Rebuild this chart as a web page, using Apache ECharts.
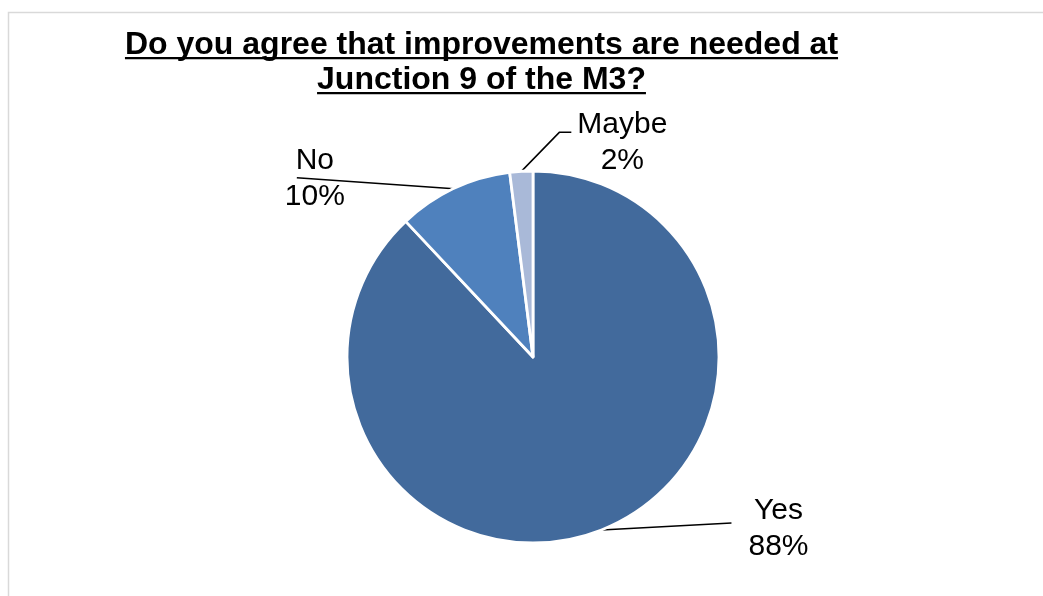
<!DOCTYPE html>
<html>
<head>
<meta charset="utf-8">
<script src="https://cdn.jsdelivr.net/npm/echarts@6/dist/echarts.min.js"></script>
<style>
  html, body { margin: 0; padding: 0; background: #ffffff; }
  #chart { width: 1043px; height: 596px; }
</style>
</head>
<body>
<div id="chart"></div>
<script>
// Survey answers and their shares (per cent)
const titleLines = ['Do you agree that improvements are needed at', 'Junction 9 of the M3?'];
const categories = ['Yes', 'No', 'Maybe'];
const shares = [88, 10, 2];
const sliceColors = ['#426A9C', '#4F81BD', '#A9B9D8'];

const FONT = '"Liberation Sans", Arial, Helvetica, sans-serif';
const TITLE_SIZE = 32;
const TITLE_LINE = 35;
const TITLE_TOP = 28;
const TITLE_X = 481.5;

// Leader-line routing per slice: offsets from the slice edge point,
// and where the centred label block sits relative to the line's end.
const leaderRoutes = {
  Yes:   { bends: [[130, -7]],          label: [47, 6] },
  No:    { bends: [[-157, -11]],        label: [18, 1] },
  Maybe: { bends: [[38, -39], [12, 0]], label: [51, 10] }
};

const chart = echarts.init(document.getElementById('chart'));

// Underlines for the title, sized from the measured text width
const ctx = document.createElement('canvas').getContext('2d');
ctx.font = 'bold ' + TITLE_SIZE + 'px ' + FONT;
const underlines = titleLines.map(function (line, i) {
  const w = ctx.measureText(line).width;
  return {
    type: 'rect',
    shape: { x: TITLE_X - w / 2, y: TITLE_TOP + TITLE_LINE * (i + 1) - 6, width: w, height: 2.2 },
    style: { fill: '#000000' },
    silent: true
  };
});

chart.setOption({
  backgroundColor: '#ffffff',
  animation: false,
  title: {
    text: titleLines.join('\n'),
    left: TITLE_X,
    top: TITLE_TOP,
    textAlign: 'center',
    padding: 0,
    textStyle: {
      fontFamily: FONT,
      fontWeight: 'bold',
      fontSize: TITLE_SIZE,
      lineHeight: TITLE_LINE,
      color: '#000000'
    }
  },
  graphic: [
    {
      type: 'rect',
      shape: { x: 8.5, y: 12.5, width: 1200, height: 800 },
      style: { fill: 'none', stroke: '#d9d9d9', lineWidth: 1.5 },
      silent: true,
      z: -1
    }
  ].concat(underlines),
  series: [{
    type: 'pie',
    center: [533, 357],
    radius: 186,
    startAngle: 90,
    clockwise: true,
    avoidLabelOverlap: false,
    itemStyle: { borderColor: '#ffffff', borderWidth: 2.8 },
    label: {
      show: true,
      position: 'outside',
      formatter: '{b}\n{d}%',
      fontFamily: FONT,
      fontSize: 30,
      lineHeight: 36,
      color: '#000000'
    },
    labelLine: {
      show: true,
      length: 1,
      length2: 20,
      smooth: false,
      lineStyle: { color: '#000000', width: 1.5 }
    },
    labelLayout: function (params) {
      const route = leaderRoutes[categories[params.dataIndex]];
      const pts = params.labelLinePoints;
      if (!route || !pts) return {};
      let cur = pts[0].slice();
      const points = [cur];
      route.bends.forEach(function (b) {
        cur = [cur[0] + b[0], cur[1] + b[1]];
        points.push(cur);
      });
      return {
        x: cur[0] + route.label[0],
        y: cur[1] + route.label[1],
        align: 'center',
        verticalAlign: 'middle',
        labelLinePoints: points
      };
    },
    emphasis: { disabled: true },
    data: categories.map(function (name, i) {
      return { name: name, value: shares[i], itemStyle: { color: sliceColors[i] } };
    })
  }]
});
</script>
</body>
</html>
